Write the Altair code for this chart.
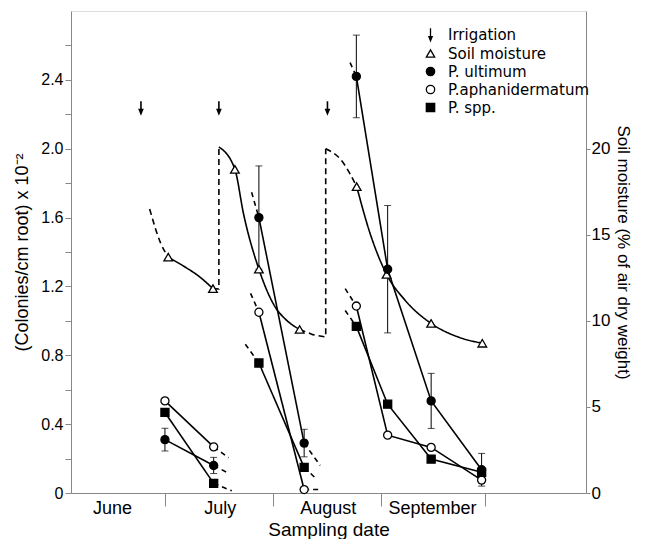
import altair as alt
import pandas as pd

FONT = "DejaVu Sans"

# x = days counted from 1 June (1 July = 30, 1 Aug = 61, 1 Sep = 92, 1 Oct = 122)
month_start = [30, 61, 92, 122]
month_names = ["June", "July", "August", "September"]

# Pythium colonies (x 10^-2 per cm root)
sample_day = [30, 44, 57, 70, 85, 94, 106.5, 121]
sample_cycle = [1, 1, 2, 2, 3, 3, 3, 3]
ultimum = [0.31, 0.16, 1.60, 0.29, 2.42, 1.30, 0.535, 0.135]
ultimum_err = [0.066, 0.047, 0.30, 0.08, 0.24, 0.37, 0.16, 0.095]
aphanidermatum = [0.535, 0.268, 1.05, 0.02, 1.086, 0.336, 0.265, 0.075]
spp = [0.468, 0.056, 0.755, 0.149, 0.968, 0.516, 0.197, 0.12]

# dashed extensions of the Pythium lines (pairs of points)
ext_id = [1, 1, 2, 2, 3, 3, 4, 4, 5, 5, 6, 6, 7, 7, 8, 8, 9, 9, 10, 10, 11, 11, 12, 12]
ext_day = [44, 48.3, 44, 48.3, 44, 49.2, 54.9, 57, 54.6, 57, 53.1, 57,
           70, 74.6, 70, 74.6, 70, 73.6, 83.2, 85, 81.8, 85, 81.8, 85]
ext_val = [0.268, 0.205, 0.16, 0.114, 0.056, 0.013, 1.747, 1.60, 1.16, 1.05, 0.864, 0.755,
           0.29, 0.16, 0.02, 0.02, 0.149, 0.08, 2.50, 2.42, 1.187, 1.086, 1.06, 0.968]

# soil moisture (% of air dry weight), sampled points
soil_day = [30.95, 43.8, 50.1, 57.0, 68.7, 85.1, 93.7, 106.5, 121.2]
soil_val = [13.7, 11.87, 18.8, 13.0, 9.5, 17.8, 12.7, 9.85, 8.7]

# soil moisture curve
curve_id = [1, 1, 1, 2, 2, 2, 2, 3, 3, 3, 3, 3, 3, 3, 4, 4, 4, 5, 5, 5, 5, 5, 5, 5]
curve_day = [25.6, 28.8, 30.95, 30.95, 36, 39.7, 43.8, 45.5, 50.1, 52.6, 57.0, 61.7, 64.6, 68.7,
             76.2, 80.8, 85.1, 85.1, 89, 93.7, 99, 106.5, 114.3, 121.2]
curve_val = [16.5, 14.5, 13.7, 13.7, 13.1, 12.6, 11.87, 20.1, 18.8, 16.2, 13.0, 10.8, 10.1, 9.5,
             20.0, 19.3, 17.8, 17.8, 15.05, 12.7, 11.2, 9.85, 9.06, 8.7]
curve_style = ["dashed", "solid", "solid", "dashed", "solid"]

# dashed connections with the rise after irrigation
jump_id = [1, 1, 1, 2, 2, 2, 2]
jump_day = [43.8, 45.5, 45.5, 68.7, 72.5, 76.2, 76.2]
jump_val = [11.87, 11.85, 20.1, 9.5, 9.2, 9.06, 20.0]

# irrigation dates
irr_day = [23.1, 45.5, 76.7]
irr_level = 2.24

series_order = ["Irrigation", "Soil moisture", "P. ultimum", "P.aphanidermatum", "P. spp."]
ARROW = "M0,-1.5L0,1.1M-0.4,0.5L0,1.5L0.4,0.5Z"
shape_range = [ARROW, "triangle-up", "circle", "circle", "square"]
fill_range = ["black", "white", "black", "white", "black"]

# ---------------- data frames ----------------
rows = []
for name, vals in [("P. ultimum", ultimum), ("P.aphanidermatum", aphanidermatum), ("P. spp.", spp)]:
    for d, c, v in zip(sample_day, sample_cycle, vals):
        rows.append({"day": d, "cycle": c, "val": v, "series": name, "grp": f"{name}-{c}"})
pyth = pd.DataFrame(rows)

err = pd.DataFrame({"day": sample_day, "lo": [v - e for v, e in zip(ultimum, ultimum_err)],
                    "hi": [v + e for v, e in zip(ultimum, ultimum_err)]})
caps = pd.concat([err[["day", "lo"]].rename(columns={"lo": "val"}),
                  err[["day", "hi"]].rename(columns={"hi": "val"})])

ext = pd.DataFrame({"id": ext_id, "day": ext_day, "val": ext_val})
soil = pd.DataFrame({"day": soil_day, "moist": soil_val, "series": "Soil moisture"})
curve = pd.DataFrame({"id": curve_id, "day": curve_day, "moist": curve_val})
curve["style"] = [curve_style[i - 1] for i in curve["id"]]
jump = pd.DataFrame({"id": jump_id, "day": jump_day, "moist": jump_val})
irr = pd.DataFrame({"day": irr_day, "val": irr_level, "series": "Irrigation"})

# ---------------- scales / axes ----------------
label_expr = " : ".join(f"datum.value == {d} ? '{n}'" for d, n in zip(month_start[:-1], month_names[:-1])) + f" : '{month_names[-1]}'"
X = alt.X("day:Q", scale=alt.Scale(domain=[3, 151], nice=False, zero=False),
          axis=alt.Axis(values=month_start, labelExpr=label_expr, labelOffset=-53, tickSize=13,
                        labelPadding=-7, labelFlush=False, grid=False, title="Sampling date",
                        labelFontSize=18, titleFontSize=19, titlePadding=3,
                        titleFontWeight="normal", labelOverlap=False))

left_ticks = [round(0.2 * i, 1) for i in range(14)]
ylab = "datum.value == 0 ? '0' : (round(datum.value * 10) % 4 == 0 ? format(datum.value, '.1f') : '')"
Ysc = alt.Scale(domain=[0, 2.8], nice=False)
Y_axis = alt.Y("val:Q", scale=Ysc,
               axis=alt.Axis(values=left_ticks, labelExpr=ylab, tickSize=6, grid=False,
                             title="(Colonies/cm root) x 10⁻²", labelFontSize=16, titleFontSize=18,
                             titlePadding=9, labelPadding=2, titleFontWeight="normal"))
Yn = alt.Y("val:Q", scale=Ysc, axis=None)
Msc = alt.Scale(domain=[0, 28], nice=False)
M_axis = alt.Y("moist:Q", scale=Msc,
               axis=alt.Axis(values=[0, 5, 10, 15, 20], orient="right", tickSize=4, grid=False,
                             title="Soil moisture (% of air dry weight)", labelFontSize=17,
                             titleFontSize=17, titlePadding=4, labelPadding=1,
                             titleFontWeight="normal"))
Mn = alt.Y("moist:Q", scale=Msc, axis=None)

legend = alt.Legend(orient="none", legendX=352, legendY=16, title=None, labelFont=FONT,
                    labelFontSize=15, rowPadding=2, symbolStrokeColor="black",
                    symbolStrokeWidth=1.3, padding=0, labelOffset=10, symbolSize=70)
SH = alt.Shape("series:N", scale=alt.Scale(domain=series_order, range=shape_range), legend=legend)
FI = alt.Fill("series:N", scale=alt.Scale(domain=series_order, range=fill_range), legend=legend)
ST = alt.Stroke("series:N", scale=alt.Scale(domain=series_order, range=["black"] * 5), legend=legend)

dash_scale = alt.Scale(domain=["solid", "dashed"], range=[[1, 0], [6, 4]])

soil_curve = alt.Chart(curve).mark_line(interpolate="monotone", color="black", strokeWidth=1.6).encode(
    x=X, y=M_axis, detail="id:N",
    strokeDash=alt.StrokeDash("style:N", scale=dash_scale, legend=None))
soil_jump = alt.Chart(jump).mark_line(color="black", strokeWidth=1.6, strokeDash=[6, 4]).encode(
    x=X, y=Mn, detail="id:N")
pyth_lines = alt.Chart(pyth).mark_line(color="black", strokeWidth=1.6).encode(
    x=X, y=Y_axis, detail="grp:N")
ext_lines = alt.Chart(ext).mark_line(color="black", strokeWidth=1.6, strokeDash=[5, 4]).encode(
    x=X, y=Yn, detail="id:N")
err_rule = alt.Chart(err).mark_rule(color="black", strokeWidth=1).encode(
    x=X, y=alt.Y("lo:Q", scale=Ysc, axis=None), y2="hi:Q")
err_caps = alt.Chart(caps).mark_tick(orient="horizontal", color="black", thickness=1, size=7).encode(
    x=X, y=Yn)
soil_pts = alt.Chart(soil).mark_point(filled=True, strokeWidth=1.3, size=75, opacity=1).encode(
    x=X, y=Mn, shape=SH, fill=FI, stroke=ST)
pyth_pts = alt.Chart(pyth).mark_point(filled=True, strokeWidth=1.3, size=65, opacity=1).encode(
    x=X, y=Yn, shape=SH, fill=FI, stroke=ST)
irr_pts = alt.Chart(irr).mark_point(filled=True, strokeWidth=1.6, size=70, opacity=1).encode(
    x=X, y=Yn, shape=SH, fill=FI, stroke=ST)

chart = alt.layer(
    soil_curve, soil_jump, pyth_lines, ext_lines, err_rule, err_caps, soil_pts, pyth_pts, irr_pts
).resolve_scale(y="independent").properties(
    width=515, height=482, padding={"left": 5, "top": 3, "right": 0, "bottom": 0}
).configure_view(stroke="black", strokeWidth=1.3).configure_axis(
    domainColor="black", tickColor="black", labelColor="black", titleColor="black",
    labelFont=FONT, titleFont=FONT, titleFontWeight="normal", domainWidth=1.3, tickWidth=1.3
).configure(background="white")

chart.save("out.html", embed_options={"renderer": "svg", "actions": False})
